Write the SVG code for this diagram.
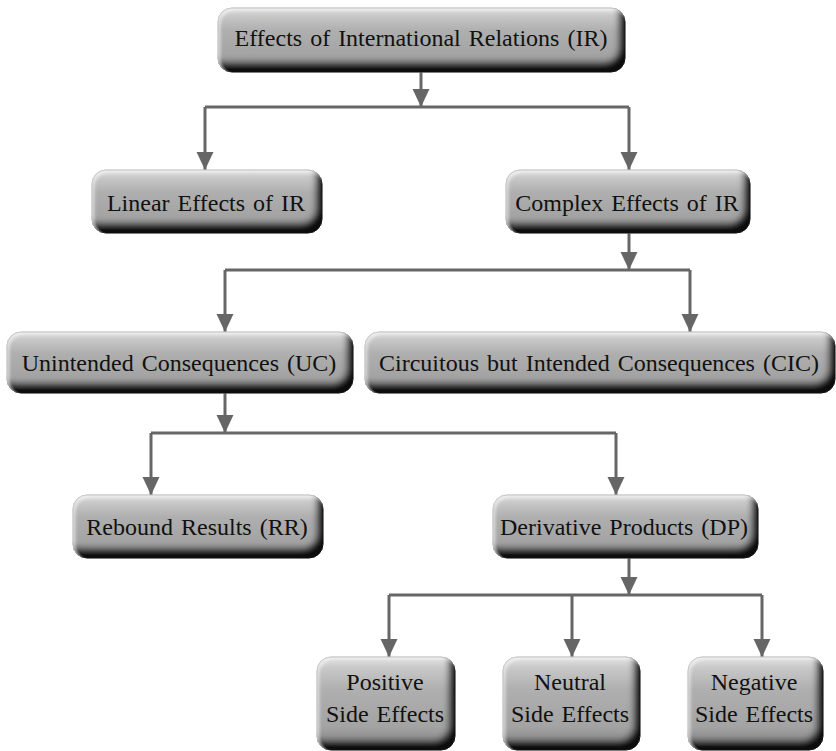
<svg xmlns="http://www.w3.org/2000/svg" width="836" height="751" viewBox="0 0 836 751">
<style>
.box{fill:url(#gv);stroke:#8a8a8a;stroke-width:1;filter:url(#bevel)}
.t{font-family:"Liberation Serif","Times New Roman",serif;font-size:24px;fill:#111;text-anchor:middle;word-spacing:2px}
.c{fill:none;stroke:#666;stroke-width:3}
.a{fill:none;stroke:#666;stroke-width:3;marker-end:url(#ah)}
</style>
<defs>
<linearGradient id="gv" x1="0" y1="0" x2="0" y2="1">
<stop offset="0" stop-color="#e4e4e4"/>
<stop offset="0.12" stop-color="#c8c8c8"/>
<stop offset="0.35" stop-color="#afafaf"/>
<stop offset="0.75" stop-color="#a3a3a3"/>
<stop offset="1" stop-color="#808080"/>
</linearGradient>
<filter id="bevel" x="-5%" y="-10%" width="110%" height="120%">
<feOffset in="SourceAlpha" dx="-7" dy="-10" result="off"/>
<feGaussianBlur in="off" stdDeviation="3" result="blur"/>
<feComposite in="SourceAlpha" in2="blur" operator="out" result="inv"/>
<feFlood flood-color="#111111" flood-opacity="1"/>
<feComposite in2="inv" operator="in" result="shadow"/>
<feOffset in="SourceAlpha" dx="3" dy="3" result="off2"/>
<feGaussianBlur in="off2" stdDeviation="1.5" result="blur2"/>
<feComposite in="SourceAlpha" in2="blur2" operator="out" result="inv2"/>
<feFlood flood-color="#ffffff" flood-opacity="0.45"/>
<feComposite in2="inv2" operator="in" result="hl"/>
<feMerge><feMergeNode in="SourceGraphic"/><feMergeNode in="shadow"/><feMergeNode in="hl"/></feMerge>
</filter>
<marker id="ah" markerUnits="userSpaceOnUse" markerWidth="18" markerHeight="18" viewBox="0 0 17 16" refX="17" refY="8" orient="auto">
<path d="M0,0 L17,8 L0,16 Z" fill="#666"/>
</marker>
</defs>
<g id="connectors">
<path class="a" d="M421,72 V107"/>
<path class="c" d="M205,107 H629"/>
<path class="a" d="M205,107 V170"/>
<path class="a" d="M629,107 V170"/>
<path class="a" d="M629,233 V270"/>
<path class="c" d="M225,270 H690"/>
<path class="a" d="M225,270 V332"/>
<path class="a" d="M690,270 V332"/>
<path class="a" d="M225,393 V433"/>
<path class="c" d="M151,433 H616"/>
<path class="a" d="M151,433 V495"/>
<path class="a" d="M616,433 V495"/>
<path class="a" d="M629,558 V595"/>
<path class="c" d="M389,595 H762"/>
<path class="a" d="M389,595 V657"/>
<path class="a" d="M572,595 V657"/>
<path class="a" d="M762,595 V657"/>
</g>
<g id="n-ir"><rect class="box" x="218" y="8" width="407" height="64" rx="14"/><text class="t" x="421" y="46">Effects of International Relations (IR)</text></g>
<g id="n-linear"><rect class="box" x="92" y="170" width="230" height="63" rx="14"/><text class="t" x="206" y="211">Linear Effects of IR</text></g>
<g id="n-complex"><rect class="box" x="506" y="170" width="244" height="63" rx="14"/><text class="t" x="627" y="211">Complex Effects of IR</text></g>
<g id="n-uc"><rect class="box" x="7" y="332" width="346" height="61" rx="14"/><text class="t" x="179" y="371">Unintended Consequences (UC)</text></g>
<g id="n-cic"><rect class="box" x="365" y="332" width="470" height="61" rx="14"/><text class="t" x="599" y="371">Circuitous but Intended Consequences (CIC)</text></g>
<g id="n-rr"><rect class="box" x="73" y="495" width="250" height="63" rx="14"/><text class="t" x="197" y="535">Rebound Results (RR)</text></g>
<g id="n-dp"><rect class="box" x="493" y="495" width="265" height="63" rx="14"/><text class="t" x="624" y="535">Derivative Products (DP)</text></g>
<g id="n-pos"><rect class="box" x="317" y="657" width="138" height="93" rx="14"/><text class="t" x="385" y="690">Positive</text><text class="t" x="385" y="722">Side Effects</text></g>
<g id="n-neu"><rect class="box" x="503" y="657" width="137" height="93" rx="14"/><text class="t" x="570" y="690">Neutral</text><text class="t" x="570" y="722">Side Effects</text></g>
<g id="n-neg"><rect class="box" x="688" y="657" width="135" height="93" rx="14"/><text class="t" x="754" y="690">Negative</text><text class="t" x="754" y="722">Side Effects</text></g>
</svg>
